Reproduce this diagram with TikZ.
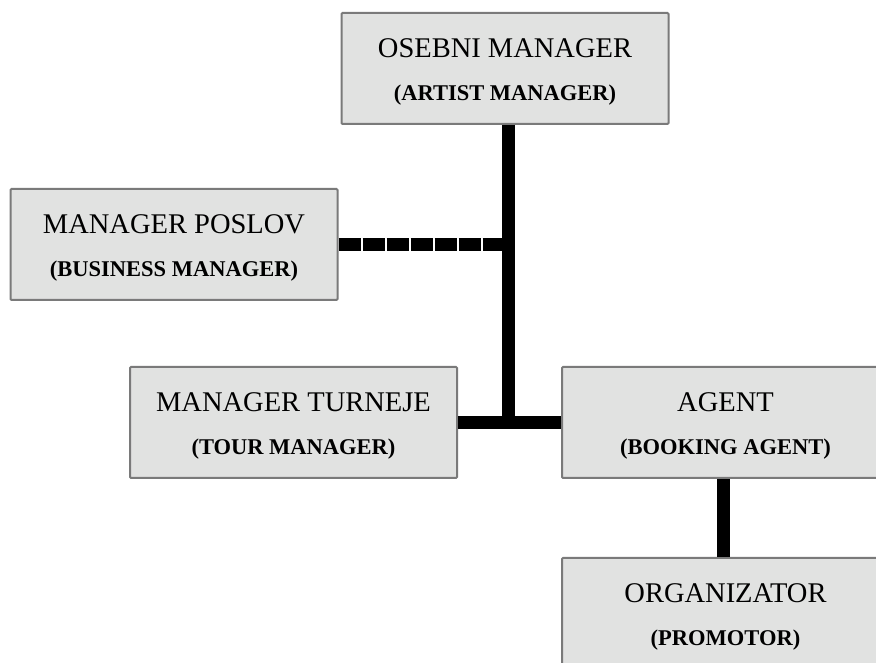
\documentclass[tikz,border=0pt]{standalone}
\usepackage{fontspec}
\setmainfont{Liberation Serif}
\definecolor{boxfill}{HTML}{E1E2E1}
\definecolor{boxline}{HTML}{7A7A7A}
\begin{document}
\begin{tikzpicture}[x = 1pt, y = 1pt,
        role/.style = {draw = boxline, line width = 2pt, fill = boxfill, rounded corners = 1pt,
            minimum width = 327pt, minimum height = 111pt, inner sep = 0pt, align = center,
            font = \fontsize{28.5}{43}\selectfont},
        link/.style = {line width = 13pt},
        dashlink/.style = {line width = 13pt, dash pattern = on 22pt off 2pt}]
        \useasboundingbox (0, 0) rectangle (876, 663);
        % first line raised with a strut so both lines sit a little lower
        \newcommand{\rolename}[2]{\rule{0pt}{25pt}#1\\
            {\bfseries\fontsize{22.5}{43}\selectfont #2}}
        \node [role] (artist) at (505, 594.5) {\rolename{OSEBNI MANAGER}{(ARTIST MANAGER)}};
        \node [role] (business) at (174, 418.5) {\rolename{MANAGER POSLOV}{(BUSINESS MANAGER)}};
        \node [role] (tour) at (293.5, 240.5) {\rolename{MANAGER TURNEJE}{(TOUR MANAGER)}};
        \node [role] (agent) at (725.5, 240.5) {\rolename{AGENT}{(BOOKING AGENT)}};
        \node [role] (promotor) at (725.5, 49.5) {\rolename{ORGANIZATOR}{(PROMOTOR)}};
        \coordinate (hub) at (508, 242);
        \draw [link] (artist.south -| hub) -- (hub);
        \draw [link] (tour.east) -- (agent.west);
        \draw [dashlink] (business.east) -- (business.east -| hub);
        \draw [link] ([xshift = -2.5pt] agent.south) -- ([xshift = -2.5pt] promotor.north);
    \end{tikzpicture}
\end{document}
